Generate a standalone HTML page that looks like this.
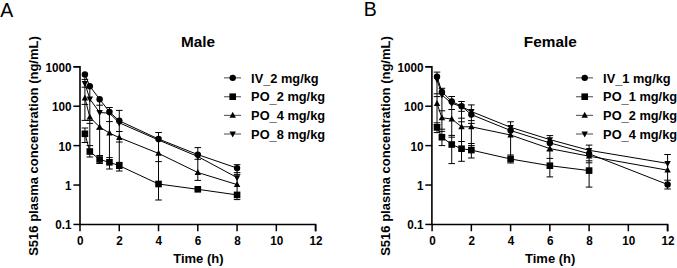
<!DOCTYPE html>
<html><head><meta charset="utf-8"><style>
html,body{margin:0;padding:0;background:#fff;width:677px;height:268px;overflow:hidden}
svg{display:block}
text{font-family:"Liberation Sans", sans-serif;fill:#000}
.pl{font-size:19.5px}
.ti{font-size:15.35px;font-weight:bold}
.ax{font-size:13px;font-weight:bold}
.lg{font-size:12.8px;font-weight:bold}
.tk{font-size:12.2px;font-weight:bold}
</style></head><body>
<svg width="677" height="268" viewBox="0 0 677 268">
<text x="0.2" y="16.5" class="pl">A</text>
<text x="363.7" y="16.3" class="pl">B</text>
<text x="198.1" y="46.8" text-anchor="middle" class="ti">Male</text>
<text x="550.3" y="46.8" text-anchor="middle" class="ti">Female</text>
<text transform="translate(37.9,146.0) rotate(-90)" text-anchor="middle" class="ax">S516 plasma concentration (ng/mL)</text>
<text transform="translate(389.9,146.0) rotate(-90)" text-anchor="middle" class="ax">S516 plasma concentration (ng/mL)</text>
<text x="198.4" y="262.5" text-anchor="middle" class="ax">Time (h)</text>
<text x="550.2" y="262.5" text-anchor="middle" class="ax">Time (h)</text>
<path d="M73.40,66.8 H80.00 V224.45 H315.60 V231.25" fill="none" stroke="#000" stroke-width="1.6" stroke-linejoin="miter"/>
<line x1="73.40" y1="224.45" x2="80" y2="224.45" stroke="#000" stroke-width="1.5"/>
<text transform="translate(71.50,229.35) scale(0.96,1)" text-anchor="end" class="tk">0.1</text>
<line x1="73.40" y1="185.04" x2="80" y2="185.04" stroke="#000" stroke-width="1.5"/>
<text transform="translate(71.50,189.94) scale(0.96,1)" text-anchor="end" class="tk">1</text>
<line x1="73.40" y1="145.62" x2="80" y2="145.62" stroke="#000" stroke-width="1.5"/>
<text transform="translate(71.50,150.53) scale(0.96,1)" text-anchor="end" class="tk">10</text>
<line x1="73.40" y1="106.21" x2="80" y2="106.21" stroke="#000" stroke-width="1.5"/>
<text transform="translate(71.50,111.11) scale(0.96,1)" text-anchor="end" class="tk">100</text>
<line x1="73.40" y1="66.80" x2="80" y2="66.80" stroke="#000" stroke-width="1.5"/>
<text transform="translate(71.50,71.70) scale(0.96,1)" text-anchor="end" class="tk">1000</text>
<line x1="80.00" y1="224.45" x2="80.00" y2="231.25" stroke="#000" stroke-width="1.5"/>
<text transform="translate(80.30,245.15) scale(0.96,1)" text-anchor="middle" class="tk">0</text>
<line x1="119.27" y1="224.45" x2="119.27" y2="231.25" stroke="#000" stroke-width="1.5"/>
<text transform="translate(119.57,245.15) scale(0.96,1)" text-anchor="middle" class="tk">2</text>
<line x1="158.53" y1="224.45" x2="158.53" y2="231.25" stroke="#000" stroke-width="1.5"/>
<text transform="translate(158.83,245.15) scale(0.96,1)" text-anchor="middle" class="tk">4</text>
<line x1="197.80" y1="224.45" x2="197.80" y2="231.25" stroke="#000" stroke-width="1.5"/>
<text transform="translate(198.10,245.15) scale(0.96,1)" text-anchor="middle" class="tk">6</text>
<line x1="237.07" y1="224.45" x2="237.07" y2="231.25" stroke="#000" stroke-width="1.5"/>
<text transform="translate(237.37,245.15) scale(0.96,1)" text-anchor="middle" class="tk">8</text>
<line x1="276.33" y1="224.45" x2="276.33" y2="231.25" stroke="#000" stroke-width="1.5"/>
<text transform="translate(276.63,245.15) scale(0.96,1)" text-anchor="middle" class="tk">10</text>
<line x1="315.60" y1="224.45" x2="315.60" y2="231.25" stroke="#000" stroke-width="1.5"/>
<text transform="translate(315.90,245.15) scale(0.96,1)" text-anchor="middle" class="tk">12</text>
<path d="M84.91,74.00V120.30 M84.91,128.00V142.50 M81.61,79.40h6.60 M81.61,87.20h6.60 M81.61,104.40h6.60 M81.61,120.40h6.60 M81.61,128.00h6.60 M81.61,142.50h6.60 M89.82,86.00V157.00 M86.52,120.40h6.60 M86.52,123.40h6.60 M86.52,145.60h6.60 M86.52,157.00h6.60 M99.63,99.00V164.00 M96.33,105.20h6.60 M96.33,129.20h6.60 M96.33,155.50h6.60 M96.33,163.50h6.60 M109.45,107.50V169.00 M106.15,107.50h6.60 M106.15,121.60h6.60 M106.15,157.60h6.60 M106.15,169.00h6.60 M119.27,110.40V171.00 M115.97,110.40h6.60 M115.97,131.50h6.60 M115.97,142.00h6.60 M115.97,162.40h6.60 M115.97,171.00h6.60 M158.53,132.50V200.00 M155.23,132.50h6.60 M155.23,161.60h6.60 M155.23,200.00h6.60 M197.80,147.60V180.40 M194.50,147.60h6.60 M194.50,159.30h6.60 M194.50,180.40h6.60 M237.07,164.70V199.60 M233.77,164.70h6.60 M233.77,172.60h6.60 M233.77,174.40h6.60 M233.77,199.60h6.60" fill="none" stroke="#000" stroke-width="1"/>
<path d="M84.91,74.40 L89.82,86.20 L99.63,99.20 L109.45,111.90 L119.27,120.80 L158.53,139.00 L197.80,154.60 L237.07,168.10" fill="none" stroke="#000" stroke-width="1"/>
<path d="M84.91,133.80 L89.82,151.50 L99.63,159.50 L109.45,162.30 L119.27,165.70 L158.53,184.00 L197.80,189.30 L237.07,194.90" fill="none" stroke="#000" stroke-width="1"/>
<path d="M84.91,98.00 L89.82,117.20 L99.63,127.00 L109.45,133.10 L119.27,137.60 L158.53,153.40 L197.80,172.50 L237.07,184.60" fill="none" stroke="#000" stroke-width="1"/>
<path d="M84.91,83.30 L89.82,99.00 L99.63,112.50 L109.45,113.20 L119.27,122.80 L158.53,140.00 L197.80,156.50 L237.07,177.60" fill="none" stroke="#000" stroke-width="1"/>
<circle cx="84.91" cy="74.40" r="3.20"/>
<circle cx="89.82" cy="86.20" r="3.20"/>
<circle cx="99.63" cy="99.20" r="3.20"/>
<circle cx="109.45" cy="111.90" r="3.20"/>
<circle cx="119.27" cy="120.80" r="3.20"/>
<circle cx="158.53" cy="139.00" r="3.20"/>
<circle cx="197.80" cy="154.60" r="3.20"/>
<circle cx="237.07" cy="168.10" r="3.20"/>
<rect x="81.61" y="130.50" width="6.60" height="6.60"/>
<rect x="86.52" y="148.20" width="6.60" height="6.60"/>
<rect x="96.33" y="156.20" width="6.60" height="6.60"/>
<rect x="106.15" y="159.00" width="6.60" height="6.60"/>
<rect x="115.97" y="162.40" width="6.60" height="6.60"/>
<rect x="155.23" y="180.70" width="6.60" height="6.60"/>
<rect x="194.50" y="186.00" width="6.60" height="6.60"/>
<rect x="233.77" y="191.60" width="6.60" height="6.60"/>
<path d="M84.91,94.40 L88.11,100.40 L81.71,100.40Z"/>
<path d="M89.82,113.60 L93.02,119.60 L86.62,119.60Z"/>
<path d="M99.63,123.40 L102.83,129.40 L96.43,129.40Z"/>
<path d="M109.45,129.50 L112.65,135.50 L106.25,135.50Z"/>
<path d="M119.27,134.00 L122.47,140.00 L116.07,140.00Z"/>
<path d="M158.53,149.80 L161.73,155.80 L155.33,155.80Z"/>
<path d="M197.80,168.90 L201.00,174.90 L194.60,174.90Z"/>
<path d="M237.07,181.00 L240.27,187.00 L233.87,187.00Z"/>
<path d="M84.91,86.90 L88.11,80.90 L81.71,80.90Z"/>
<path d="M89.82,102.60 L93.02,96.60 L86.62,96.60Z"/>
<path d="M99.63,116.10 L102.83,110.10 L96.43,110.10Z"/>
<path d="M109.45,116.80 L112.65,110.80 L106.25,110.80Z"/>
<path d="M119.27,126.40 L122.47,120.40 L116.07,120.40Z"/>
<path d="M158.53,143.60 L161.73,137.60 L155.33,137.60Z"/>
<path d="M197.80,160.10 L201.00,154.10 L194.60,154.10Z"/>
<path d="M237.07,181.20 L240.27,175.20 L233.87,175.20Z"/>
<path d="M425.30,66.8 H431.90 V224.45 H667.60 V231.25" fill="none" stroke="#000" stroke-width="1.6" stroke-linejoin="miter"/>
<line x1="425.30" y1="224.45" x2="431.9" y2="224.45" stroke="#000" stroke-width="1.5"/>
<text transform="translate(423.40,229.35) scale(0.96,1)" text-anchor="end" class="tk">0.1</text>
<line x1="425.30" y1="185.04" x2="431.9" y2="185.04" stroke="#000" stroke-width="1.5"/>
<text transform="translate(423.40,189.94) scale(0.96,1)" text-anchor="end" class="tk">1</text>
<line x1="425.30" y1="145.62" x2="431.9" y2="145.62" stroke="#000" stroke-width="1.5"/>
<text transform="translate(423.40,150.53) scale(0.96,1)" text-anchor="end" class="tk">10</text>
<line x1="425.30" y1="106.21" x2="431.9" y2="106.21" stroke="#000" stroke-width="1.5"/>
<text transform="translate(423.40,111.11) scale(0.96,1)" text-anchor="end" class="tk">100</text>
<line x1="425.30" y1="66.80" x2="431.9" y2="66.80" stroke="#000" stroke-width="1.5"/>
<text transform="translate(423.40,71.70) scale(0.96,1)" text-anchor="end" class="tk">1000</text>
<line x1="432.10" y1="224.45" x2="432.10" y2="231.25" stroke="#000" stroke-width="1.5"/>
<text transform="translate(432.40,245.15) scale(0.96,1)" text-anchor="middle" class="tk">0</text>
<line x1="471.35" y1="224.45" x2="471.35" y2="231.25" stroke="#000" stroke-width="1.5"/>
<text transform="translate(471.65,245.15) scale(0.96,1)" text-anchor="middle" class="tk">2</text>
<line x1="510.60" y1="224.45" x2="510.60" y2="231.25" stroke="#000" stroke-width="1.5"/>
<text transform="translate(510.90,245.15) scale(0.96,1)" text-anchor="middle" class="tk">4</text>
<line x1="549.85" y1="224.45" x2="549.85" y2="231.25" stroke="#000" stroke-width="1.5"/>
<text transform="translate(550.15,245.15) scale(0.96,1)" text-anchor="middle" class="tk">6</text>
<line x1="589.10" y1="224.45" x2="589.10" y2="231.25" stroke="#000" stroke-width="1.5"/>
<text transform="translate(589.40,245.15) scale(0.96,1)" text-anchor="middle" class="tk">8</text>
<line x1="628.35" y1="224.45" x2="628.35" y2="231.25" stroke="#000" stroke-width="1.5"/>
<text transform="translate(628.65,245.15) scale(0.96,1)" text-anchor="middle" class="tk">10</text>
<line x1="667.60" y1="224.45" x2="667.60" y2="231.25" stroke="#000" stroke-width="1.5"/>
<text transform="translate(667.90,245.15) scale(0.96,1)" text-anchor="middle" class="tk">12</text>
<path d="M437.01,72.10V132.60 M433.71,72.10h6.60 M433.71,93.80h6.60 M433.71,96.60h6.60 M433.71,122.80h6.60 M433.71,124.60h6.60 M433.71,132.60h6.60 M441.91,88.30V145.60 M438.61,88.30h6.60 M438.61,110.80h6.60 M438.61,129.20h6.60 M438.61,131.40h6.60 M438.61,145.60h6.60 M451.73,96.50V163.60 M448.43,96.50h6.60 M448.43,109.50h6.60 M448.43,135.40h6.60 M448.43,137.20h6.60 M448.43,163.60h6.60 M461.54,101.50V161.30 M458.24,101.50h6.60 M458.24,111.30h6.60 M458.24,118.20h6.60 M458.24,121.80h6.60 M458.24,141.50h6.60 M458.24,161.30h6.60 M471.35,104.90V158.00 M468.05,104.90h6.60 M468.05,120.60h6.60 M468.05,123.40h6.60 M468.05,143.50h6.60 M468.05,145.60h6.60 M468.05,158.00h6.60 M510.60,121.80V163.00 M507.30,121.80h6.60 M507.30,155.00h6.60 M507.30,163.00h6.60 M549.85,135.60V176.90 M546.55,135.60h6.60 M546.55,151.00h6.60 M546.55,158.40h6.60 M546.55,176.90h6.60 M589.10,145.10V187.10 M585.80,145.10h6.60 M585.80,160.80h6.60 M585.80,162.80h6.60 M585.80,187.10h6.60 M667.60,154.50V189.00 M664.30,154.50h6.60 M664.30,180.20h6.60 M664.30,189.00h6.60" fill="none" stroke="#000" stroke-width="1"/>
<path d="M437.01,76.60 L441.91,91.90 L451.73,101.40 L461.54,106.20 L471.35,114.60 L510.60,130.50 L549.85,142.90 L589.10,153.80 L667.60,184.50" fill="none" stroke="#000" stroke-width="1"/>
<path d="M437.01,127.40 L441.91,137.20 L451.73,144.50 L461.54,148.70 L471.35,150.10 L510.60,159.00 L549.85,165.70 L589.10,170.60" fill="none" stroke="#000" stroke-width="1"/>
<path d="M437.01,103.50 L441.91,117.80 L451.73,119.00 L461.54,126.80 L471.35,126.80 L510.60,135.00 L549.85,148.60 L589.10,156.20 L667.60,170.20" fill="none" stroke="#000" stroke-width="1"/>
<path d="M437.01,79.30 L441.91,95.00 L451.73,103.30 L461.54,106.60 L471.35,111.50 L510.60,127.30 L549.85,139.60 L589.10,150.30 L667.60,163.40" fill="none" stroke="#000" stroke-width="1"/>
<circle cx="437.01" cy="76.60" r="3.20"/>
<circle cx="441.91" cy="91.90" r="3.20"/>
<circle cx="451.73" cy="101.40" r="3.20"/>
<circle cx="461.54" cy="106.20" r="3.20"/>
<circle cx="471.35" cy="114.60" r="3.20"/>
<circle cx="510.60" cy="130.50" r="3.20"/>
<circle cx="549.85" cy="142.90" r="3.20"/>
<circle cx="589.10" cy="153.80" r="3.20"/>
<circle cx="667.60" cy="184.50" r="3.20"/>
<rect x="433.71" y="124.10" width="6.60" height="6.60"/>
<rect x="438.61" y="133.90" width="6.60" height="6.60"/>
<rect x="448.43" y="141.20" width="6.60" height="6.60"/>
<rect x="458.24" y="145.40" width="6.60" height="6.60"/>
<rect x="468.05" y="146.80" width="6.60" height="6.60"/>
<rect x="507.30" y="155.70" width="6.60" height="6.60"/>
<rect x="546.55" y="162.40" width="6.60" height="6.60"/>
<rect x="585.80" y="167.30" width="6.60" height="6.60"/>
<path d="M437.01,99.90 L440.21,105.90 L433.81,105.90Z"/>
<path d="M441.91,114.20 L445.11,120.20 L438.71,120.20Z"/>
<path d="M451.73,115.40 L454.93,121.40 L448.53,121.40Z"/>
<path d="M461.54,123.20 L464.74,129.20 L458.34,129.20Z"/>
<path d="M471.35,123.20 L474.55,129.20 L468.15,129.20Z"/>
<path d="M510.60,131.40 L513.80,137.40 L507.40,137.40Z"/>
<path d="M549.85,145.00 L553.05,151.00 L546.65,151.00Z"/>
<path d="M589.10,152.60 L592.30,158.60 L585.90,158.60Z"/>
<path d="M667.60,166.60 L670.80,172.60 L664.40,172.60Z"/>
<path d="M437.01,82.90 L440.21,76.90 L433.81,76.90Z"/>
<path d="M441.91,98.60 L445.11,92.60 L438.71,92.60Z"/>
<path d="M451.73,106.90 L454.93,100.90 L448.53,100.90Z"/>
<path d="M461.54,110.20 L464.74,104.20 L458.34,104.20Z"/>
<path d="M471.35,115.10 L474.55,109.10 L468.15,109.10Z"/>
<path d="M510.60,130.90 L513.80,124.90 L507.40,124.90Z"/>
<path d="M549.85,143.20 L553.05,137.20 L546.65,137.20Z"/>
<path d="M589.10,153.90 L592.30,147.90 L585.90,147.90Z"/>
<path d="M667.60,167.00 L670.80,161.00 L664.40,161.00Z"/>
<line x1="224" y1="77.85" x2="241" y2="77.85" stroke="#000" stroke-width="1.2" stroke-opacity="0.6"/>
<circle cx="232.70" cy="77.85" r="3.20"/>
<text x="251.1" y="82.55" class="lg">IV<tspan dy="1.2">_</tspan><tspan dy="-1.2">2 mg/kg</tspan></text>
<line x1="224" y1="96.7" x2="241" y2="96.7" stroke="#000" stroke-width="1.2" stroke-opacity="0.6"/>
<rect x="229.40" y="93.40" width="6.60" height="6.60"/>
<text x="251.1" y="101.40" class="lg">PO<tspan dy="1.2">_</tspan><tspan dy="-1.2">2 mg/kg</tspan></text>
<line x1="224" y1="115.4" x2="241" y2="115.4" stroke="#000" stroke-width="1.2" stroke-opacity="0.6"/>
<path d="M232.70,111.80 L235.90,117.80 L229.50,117.80Z"/>
<text x="251.1" y="120.10" class="lg">PO<tspan dy="1.2">_</tspan><tspan dy="-1.2">4 mg/kg</tspan></text>
<line x1="224" y1="134.0" x2="241" y2="134.0" stroke="#000" stroke-width="1.2" stroke-opacity="0.6"/>
<path d="M232.70,137.60 L235.90,131.60 L229.50,131.60Z"/>
<text x="251.1" y="138.70" class="lg">PO<tspan dy="1.2">_</tspan><tspan dy="-1.2">8 mg/kg</tspan></text>
<line x1="576" y1="77.85" x2="593" y2="77.85" stroke="#000" stroke-width="1.2" stroke-opacity="0.6"/>
<circle cx="584.70" cy="77.85" r="3.20"/>
<text x="603.1" y="82.55" class="lg">IV<tspan dy="1.2">_</tspan><tspan dy="-1.2">1 mg/kg</tspan></text>
<line x1="576" y1="96.7" x2="593" y2="96.7" stroke="#000" stroke-width="1.2" stroke-opacity="0.6"/>
<rect x="581.40" y="93.40" width="6.60" height="6.60"/>
<text x="603.1" y="101.40" class="lg">PO<tspan dy="1.2">_</tspan><tspan dy="-1.2">1 mg/kg</tspan></text>
<line x1="576" y1="115.4" x2="593" y2="115.4" stroke="#000" stroke-width="1.2" stroke-opacity="0.6"/>
<path d="M584.70,111.80 L587.90,117.80 L581.50,117.80Z"/>
<text x="603.1" y="120.10" class="lg">PO<tspan dy="1.2">_</tspan><tspan dy="-1.2">2 mg/kg</tspan></text>
<line x1="576" y1="134.0" x2="593" y2="134.0" stroke="#000" stroke-width="1.2" stroke-opacity="0.6"/>
<path d="M584.70,137.60 L587.90,131.60 L581.50,131.60Z"/>
<text x="603.1" y="138.70" class="lg">PO<tspan dy="1.2">_</tspan><tspan dy="-1.2">4 mg/kg</tspan></text>
</svg></body></html>
